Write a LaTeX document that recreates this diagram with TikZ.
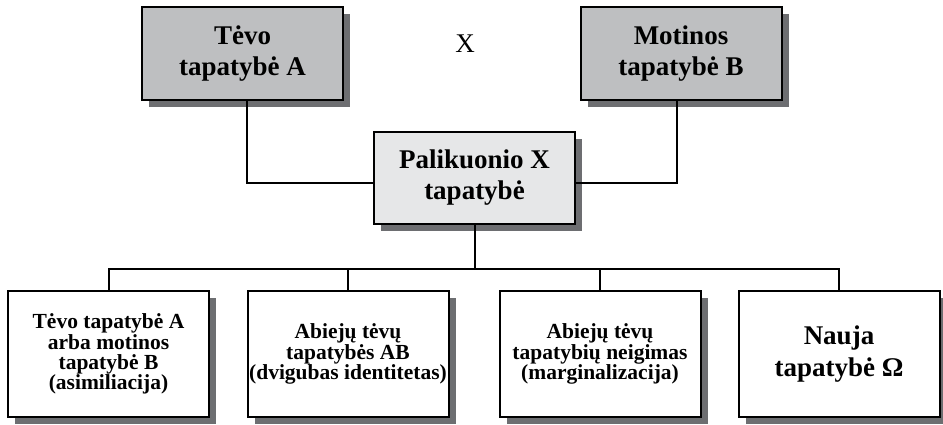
\documentclass[tikz,border=0pt]{standalone}
\usepackage{fontspec}
\setmainfont{Liberation Serif}
\usepackage{tikz}
\usetikzlibrary{positioning,shapes,shadows}

\definecolor{topgray}{RGB}{190,191,193}
\definecolor{midgray}{RGB}{230,231,232}
\definecolor{shadowgray}{RGB}{109,110,113}

\begin{document}
\begin{tikzpicture}[x=1pt, y=-1pt,
	box/.style={draw, line width=2pt, inner sep=0pt, align=center,
		drop shadow={shadow xshift=7pt, shadow yshift=-7pt, fill=shadowgray, opacity=1}},
	parent/.style={box, fill=topgray, minimum width=201pt, minimum height=93pt,
		font=\bfseries\fontsize{27}{31}\selectfont},
	child/.style={box, fill=midgray, minimum width=201pt, minimum height=92pt,
		font=\bfseries\fontsize{27}{31}\selectfont},
	result/.style={box, fill=white, minimum width=201pt, minimum height=126pt,
		font=\bfseries\fontsize{21.5}{20.3}\selectfont},
	conn/.style={line width=2pt}]
				\useasboundingbox (0,0) rectangle (943,424);
				\node[parent] (A1) at (242.5, 53.5) {Tėvo\\tapatybė A};
				\node[parent] (B1) at (681, 53.5) {Motinos\\tapatybė B};
				\node[font=\fontsize{27}{31}\selectfont] (K1) at (465, 44) {X};
				\node[child] (X1) at (474.5, 178) {Palikuonio X\\tapatybė};
				\node[result] (D1) at (108.5, 354) {Tėvo tapatybė A\\arba motinos\\tapatybė B\\(asimiliacija)};
				\node[result] (D2) at (348, 354) {Abiejų tėvų\\tapatybės AB\\(dvigubas identitetas)};
				\node[result] (D3) at (600, 354) {Abiejų tėvų\\tapatybių neigimas\\(marginalizacija)};
				\node[result, font=\bfseries\fontsize{27}{32}\selectfont] (D4) at (839, 354) {Nauja\\tapatybė Ω};
				\draw[conn] ([xshift=4pt]A1.south) |- ([yshift=-5pt]X1.west);
				\draw[conn] ([xshift=-4pt]B1.south) |- ([yshift=-5pt]X1.east);
				\draw[conn] (X1.south) -- ++(0, 44) coordinate (J1);
				\draw[conn] (D1.north) |- (J1) -| (D4.north);
				\draw[conn] (D2.north) -- (D2.north |- J1);
				\draw[conn] (D3.north) -- (D3.north |- J1);
			\end{tikzpicture}
\end{document}
